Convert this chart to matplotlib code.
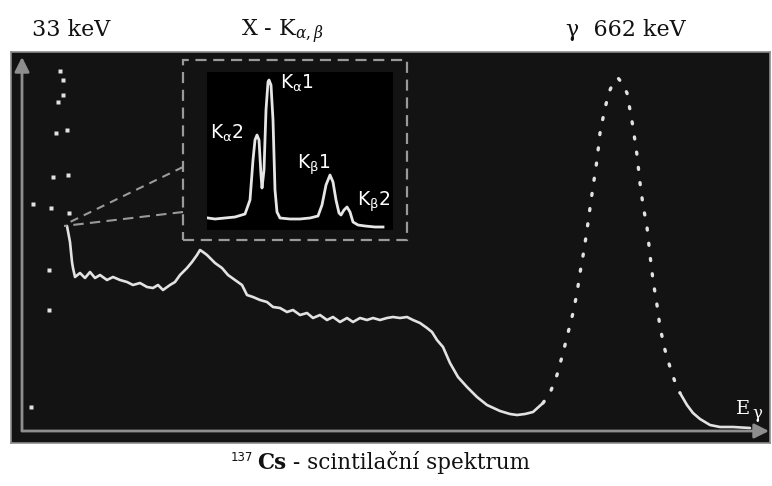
import matplotlib
matplotlib.use("Agg")
import matplotlib.pyplot as plt
from matplotlib.patches import Rectangle

plt.rcParams['mathtext.fontset'] = 'dejavuserif'

# ---------------- data (channel, counts) ----------------
# 33 keV X-ray peak region: sparse dots
xray_ch = [38, 41, 41, 36, 34, 45, 31, 46, 11, 29, 47, 27, 27, 9]
xray_cnt = [360, 351, 336, 329, 298, 301, 254, 256, 227, 223, 218, 161, 121, 24]

spec_ch = [45, 48, 50, 51, 53, 58, 63, 68, 73, 78, 85, 91, 98, 105, 111, 118, 125, 131,
           136, 141, 148, 153, 158, 165, 170, 175, 178, 181, 185, 193, 200, 206, 213, 220,
           225, 231, 238, 245, 251, 258, 265, 271, 278, 285, 291, 298, 305, 311, 318, 325,
           331, 338, 345, 351, 358, 365, 371, 378, 385, 391, 398, 405, 410, 415, 421, 428,
           436, 445, 455, 465, 478, 488, 495, 503, 511, 521, 528, 535, 541, 546, 551, 555,
           558, 562, 565, 568, 571, 575, 578, 582, 585, 588, 591, 596, 600, 605, 608, 611,
           615, 618, 621, 625, 628, 631, 635, 638, 643, 648, 653, 658, 665, 671, 678, 688,
           698, 711, 728]
spec_cnt = [205, 189, 169, 163, 154, 158, 153, 159, 153, 156, 151, 154, 151, 149, 146, 148,
            144, 143, 146, 141, 146, 149, 156, 163, 169, 176, 181, 179, 176, 168, 163, 156,
            151, 146, 136, 134, 131, 129, 124, 123, 119, 121, 116, 118, 113, 116, 111, 114,
            109, 113, 109, 113, 111, 113, 111, 113, 114, 113, 114, 111, 108, 103, 99, 91,
            84, 68, 54, 44, 34, 26, 20, 17, 16, 17, 19, 28, 38, 56, 78, 98, 118, 138, 158,
            181, 201, 223, 244, 271, 298, 318, 331, 341, 348, 353, 348, 338, 321, 304, 276,
            248, 226, 204, 176, 151, 126, 104, 81, 64, 49, 38, 26, 18, 12, 6, 4, 4, 3]

# inset: X-ray K lines
ins_ch = [1, 8, 18, 28, 38, 43, 46, 48, 50, 52, 54, 55, 57, 59, 61, 62, 64, 66, 68, 70,
          73, 83, 93, 103, 111, 115, 119, 123, 126, 129, 132, 134, 137, 140, 143, 146,
          151, 158, 168, 176]
ins_cnt = [12, 11, 12, 13, 16, 30, 70, 90, 95, 90, 55, 42, 60, 120, 148, 150, 145, 110,
           40, 18, 12, 11, 11, 12, 14, 25, 45, 55, 48, 30, 17, 15, 20, 23, 18, 8, 5, 4, 3, 3]

ins_labels = ['K_{\\alpha}2', 'K_{\\alpha}1', 'K_{\\beta}1', 'K_{\\beta}2']
ins_label_pos = [(3, 97), (73, 147), (90, 65), (150, 28)]

top_labels = ['33 keV', 'X - K$_{\\alpha,\\beta}$', 'γ  662 keV']

# ---------------- figure ----------------
W, H = 772, 486
fig = plt.figure(figsize=(W / 100, H / 100), dpi=100, facecolor='white')


def fx(px):
    return px / W


def fy(py):
    return 1 - py / H


# main panel
x0, x1, y0, y1 = 11, 770, 52, 443
ax = fig.add_axes([fx(x0), fy(y1), fx(x1 - x0), (y1 - y0) / H])
ax.set_facecolor('#131313')
ax.set_xlim(x0 - 22, x1 - 22)
ax.set_ylim(431 - y1, 431 - y0)
ax.set_xticks([])
ax.set_yticks([])
for s in ax.spines.values():
    s.set_color('#8c8c8c')
    s.set_linewidth(1.2)

axis_col = '#8e8e8e'
ax.annotate('', xy=(0, 431 - 57), xytext=(0, 0),
            arrowprops=dict(arrowstyle='-|>', color=axis_col, lw=2, mutation_scale=22,
                            shrinkA=0, shrinkB=0))
ax.annotate('', xy=(747, 0), xytext=(0, 0),
            arrowprops=dict(arrowstyle='-|>', color=axis_col, lw=2, mutation_scale=22,
                            shrinkA=0, shrinkB=0))

# spectrum
curve_col = '#e2e2e2'
ax.plot(xray_ch, xray_cnt, 's', color=curve_col, ms=2.6, mec='none')
iA = spec_ch.index(521)
iB = spec_ch.index(658)
ax.plot(spec_ch[:iA + 1], spec_cnt[:iA + 1], color=curve_col, lw=1.9,
        solid_capstyle='round', solid_joinstyle='round')
ax.plot(spec_ch[iA:iB + 1], spec_cnt[iA:iB + 1], color=curve_col, lw=2.4,
        linestyle=(0, (0.6, 4.0)), dash_capstyle='round')
ax.plot(spec_ch[iB:], spec_cnt[iB:], color=curve_col, lw=1.9,
        solid_capstyle='round', solid_joinstyle='round')

# dashed inset frame and zoom lines (main-axes coordinates)
dash_col = '#9a9a9a'
ax.add_patch(Rectangle((183 - 22, 431 - 240), 224, 180, fill=False, ec=dash_col,
                       lw=1.6, linestyle=(0, (5, 3))))
ax.plot([161, 46], [431 - 167, 431 - 223], color=dash_col, lw=1.5, linestyle=(0, (4, 3)))
ax.plot([161, 42], [431 - 212, 431 - 226], color=dash_col, lw=1.5, linestyle=(0, (5, 3)))

# inset
axi = fig.add_axes([fx(207), fy(230), fx(393 - 207), (230 - 72) / H])
axi.set_facecolor('black')
axi.set_xlim(0, 186)
axi.set_ylim(0, 158)
axi.set_xticks([])
axi.set_yticks([])
for s in axi.spines.values():
    s.set_visible(False)
axi.plot(ins_ch, ins_cnt, color='#e6e6e6', lw=2.0, solid_joinstyle='round')
for lab, (lx, ly) in zip(ins_labels, ins_label_pos):
    axi.text(lx, ly, '$\\mathsf{' + lab + '}$', color='white', fontsize=13.5,
             ha='left', va='center')

# Eγ label
fig.text(fx(736), fy(414), 'E', color='white', fontsize=14, family='DejaVu Serif',
         va='baseline', ha='left')
fig.text(fx(752), fy(418), 'γ', color='white', fontsize=12, family='DejaVu Serif',
         va='baseline', ha='left')

# top labels
for lab, lx in zip(top_labels, [32, 241, 566]):
    fig.text(fx(lx), fy(36), lab, color='#111111', fontsize=16, family='DejaVu Serif',
             va='baseline', ha='left')

# caption
fig.text(fx(231), fy(461), '137', fontsize=8.5, family='DejaVu Sans', color='#111111',
         va='baseline', ha='left')
fig.text(fx(257), fy(469), 'Cs', fontsize=15.5, family='DejaVu Serif', weight='bold',
         color='#111111', va='baseline', ha='left')
fig.text(fx(286), fy(469), ' - scintilační spektrum', fontsize=15.5, family='DejaVu Serif',
         color='#111111', va='baseline', ha='left')

fig.savefig('out.png', dpi=100, facecolor='white')
